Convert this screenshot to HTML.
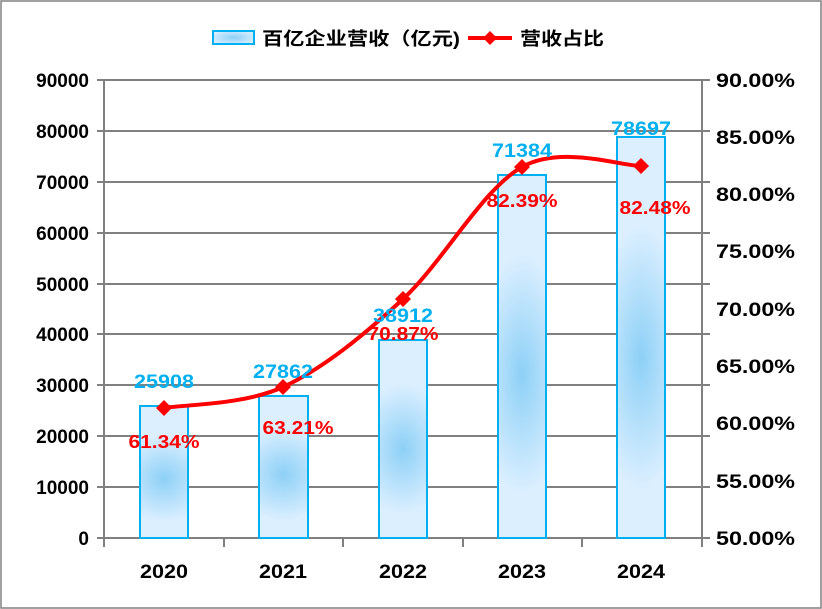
<!DOCTYPE html>
<html><head><meta charset="utf-8"><style>
html,body{margin:0;padding:0;background:#fff}
svg{display:block}
text{font-family:"Liberation Sans","Noto Sans CJK SC",sans-serif;font-weight:bold}
</style></head><body>
<svg width="822" height="609" viewBox="0 0 822 609" xmlns="http://www.w3.org/2000/svg">
<defs>
<radialGradient id="g" cx="0.5" cy="0.55" r="0.6" gradientTransform="translate(0.5 0.55) scale(1.6 0.55) translate(-0.5 -0.55)">
<stop offset="0" stop-color="#8dd0f6"/><stop offset="1" stop-color="#dcefff"/></radialGradient>
<radialGradient id="gl" cx="0.5" cy="0.5" r="0.6"><stop offset="0" stop-color="#8dd0f6"/><stop offset="1" stop-color="#dcefff"/></radialGradient>
</defs>
<rect x="1" y="1" width="820" height="607" fill="#fff" stroke="#808080" stroke-width="1.5"/>
<g stroke="#808080" stroke-width="2">
<line x1="97" y1="80" x2="710" y2="80"/><line x1="97" y1="131" x2="710" y2="131"/>
<line x1="97" y1="182" x2="710" y2="182"/><line x1="97" y1="233" x2="710" y2="233"/>
<line x1="97" y1="284" x2="710" y2="284"/><line x1="97" y1="334" x2="710" y2="334"/>
<line x1="97" y1="385" x2="710" y2="385"/><line x1="97" y1="436" x2="710" y2="436"/>
<line x1="97" y1="487" x2="710" y2="487"/><line x1="97" y1="538" x2="710" y2="538"/>
<line x1="104" y1="80" x2="104" y2="547"/><line x1="702" y1="80" x2="702" y2="547"/>
<line x1="224" y1="538" x2="224" y2="547"/><line x1="343" y1="538" x2="343" y2="547"/>
<line x1="463" y1="538" x2="463" y2="547"/><line x1="582" y1="538" x2="582" y2="547"/>
</g>
<g fill="url(#g)" stroke="#00b0f0" stroke-width="2">
<rect x="140" y="406" width="48" height="132"/>
<rect x="259" y="396" width="49" height="142"/>
<rect x="379" y="340" width="48" height="198"/>
<rect x="498" y="175" width="48" height="363"/>
<rect x="617" y="137" width="48" height="401"/>
</g>
<path d="M164,408 C183.8,404.5 243.2,405.2 283,387 C322.8,368.8 363.2,335.7 403,299 C442.8,262.3 482.3,189.2 522,167 C561.7,144.8 621.2,166.2 641,166" fill="none" stroke="#ff0000" stroke-width="4"/>
<g fill="#ff0000">
<path d="M164,400 l8,8 l-8,8 l-8,-8z"/><path d="M283,379 l8,8 l-8,8 l-8,-8z"/>
<path d="M403,291 l8,8 l-8,8 l-8,-8z"/><path d="M522,159 l8,8 l-8,8 l-8,-8z"/>
<path d="M641,158 l8,8 l-8,8 l-8,-8z"/>
</g>
<g fill="#00b0f0" font-size="19" text-anchor="middle">
<text x="164" y="388" textLength="60" lengthAdjust="spacingAndGlyphs">25908</text>
<text x="283" y="378" textLength="60" lengthAdjust="spacingAndGlyphs">27862</text>
<text x="403" y="322" textLength="60" lengthAdjust="spacingAndGlyphs">38912</text>
<text x="522" y="157" textLength="60" lengthAdjust="spacingAndGlyphs">71384</text>
<text x="641" y="135" textLength="60" lengthAdjust="spacingAndGlyphs">78697</text>
</g>
<g fill="#ff0000" font-size="18" text-anchor="middle">
<text x="164" y="448" textLength="71" lengthAdjust="spacingAndGlyphs">61.34%</text>
<text x="298" y="434" textLength="71" lengthAdjust="spacingAndGlyphs">63.21%</text>
<text x="403" y="340" textLength="71" lengthAdjust="spacingAndGlyphs">70.87%</text>
<text x="522" y="207" textLength="71" lengthAdjust="spacingAndGlyphs">82.39%</text>
<text x="655" y="214" textLength="71" lengthAdjust="spacingAndGlyphs">82.48%</text>
</g>
<g fill="#000" font-size="19" text-anchor="end">
<text x="89" y="87">90000</text><text x="89" y="138">80000</text><text x="89" y="189">70000</text>
<text x="89" y="240">60000</text><text x="89" y="291">50000</text><text x="89" y="341">40000</text>
<text x="89" y="392">30000</text><text x="89" y="443">20000</text><text x="89" y="494">10000</text>
<text x="89" y="545">0</text>
</g>
<g fill="#000" font-size="19" text-anchor="start">
<text x="716" y="87" textLength="79" lengthAdjust="spacingAndGlyphs">90.00%</text>
<text x="716" y="144" textLength="79" lengthAdjust="spacingAndGlyphs">85.00%</text>
<text x="716" y="201" textLength="79" lengthAdjust="spacingAndGlyphs">80.00%</text>
<text x="716" y="258" textLength="79" lengthAdjust="spacingAndGlyphs">75.00%</text>
<text x="716" y="316" textLength="79" lengthAdjust="spacingAndGlyphs">70.00%</text>
<text x="716" y="373" textLength="79" lengthAdjust="spacingAndGlyphs">65.00%</text>
<text x="716" y="430" textLength="79" lengthAdjust="spacingAndGlyphs">60.00%</text>
<text x="716" y="488" textLength="79" lengthAdjust="spacingAndGlyphs">55.00%</text>
<text x="716" y="545" textLength="79" lengthAdjust="spacingAndGlyphs">50.00%</text>
</g>
<g fill="#000" font-size="19" text-anchor="middle">
<text x="164" y="578" textLength="48" lengthAdjust="spacingAndGlyphs">2020</text>
<text x="283" y="578" textLength="48" lengthAdjust="spacingAndGlyphs">2021</text>
<text x="403" y="578" textLength="48" lengthAdjust="spacingAndGlyphs">2022</text>
<text x="522" y="578" textLength="48" lengthAdjust="spacingAndGlyphs">2023</text>
<text x="641" y="578" textLength="48" lengthAdjust="spacingAndGlyphs">2024</text>
</g>
<rect x="213" y="31" width="41" height="13" fill="url(#gl)" stroke="#00b0f0" stroke-width="2"/>
<text x="262" y="45" font-size="18" fill="#000" textLength="198" lengthAdjust="spacingAndGlyphs">百亿企业营收（亿元)</text>
<line x1="468" y1="38" x2="512" y2="38" stroke="#ff0000" stroke-width="4"/>
<path d="M490,31 l7,7 l-7,7 l-7,-7z" fill="#ff0000"/>
<text x="520" y="45" font-size="18" fill="#000" textLength="84" lengthAdjust="spacingAndGlyphs">营收占比</text>
</svg>
</body></html>
